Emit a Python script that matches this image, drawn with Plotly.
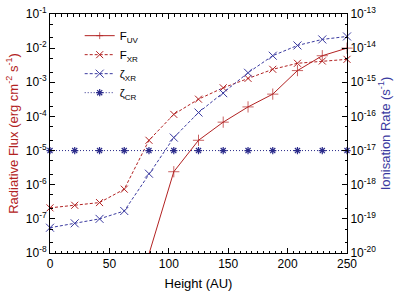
import plotly.graph_objects as go

height_au = [0, 20.8, 41.7, 62.5, 83.3, 104.2, 125.0, 145.8, 166.7, 187.5, 208.3, 229.2, 250.0]

f_uv = [None, None, None, 6e-10, 9.3e-9, 2.4e-6, 2.0e-5, 6.8e-5, 1.9e-4, 4.5e-4, 2.2e-3, 6.0e-3, 1.0e-2]
f_xr = [2.1e-7, 2.5e-7, 3.0e-7, 7.4e-7, 2.0e-5, 1.15e-4, 3.2e-4, 6.9e-4, 1.3e-3, 2.4e-3, 3.6e-3, 4.2e-3, 4.7e-3]
zeta_xr = [5.5e-20, 7.4e-20, 1.0e-19, 1.7e-19, 2.1e-18, 2.4e-17, 1.3e-16, 4.8e-16, 1.9e-15, 6.0e-15, 1.2e-14, 1.8e-14, 2.2e-14]
zeta_cr = [1e-17] * 13

flux_tickvals = [1e-8, 1e-7, 1e-6, 1e-5, 1e-4, 1e-3, 1e-2, 1e-1]
flux_ticktext = ["10<sup>-8</sup>", "10<sup>-7</sup>", "10<sup>-6</sup>", "10<sup>-5</sup>",
                 "10<sup>-4</sup>", "10<sup>-3</sup>", "10<sup>-2</sup>", "10<sup>-1</sup>"]
rate_tickvals = [1e-20, 1e-19, 1e-18, 1e-17, 1e-16, 1e-15, 1e-14, 1e-13]
rate_ticktext = ["10<sup>-20</sup>", "10<sup>-19</sup>", "10<sup>-18</sup>", "10<sup>-17</sup>",
                 "10<sup>-16</sup>", "10<sup>-15</sup>", "10<sup>-14</sup>", "10<sup>-13</sup>"]

RED = "#b22222"
BLUE = "#3a3aa0"
FONT = "Liberation Sans, Arial, sans-serif"

uv_sizes = [0 if (v is None or v < 1e-8) else 8 for v in f_uv]

fig = go.Figure()
fig.add_trace(go.Scatter(
    x=height_au, y=f_uv, name="F<sub>UV</sub>", mode="lines+markers",
    line=dict(color=RED, width=1, dash="solid"),
    marker=dict(symbol="cross-thin-open", size=uv_sizes, line=dict(color=RED, width=1)),
    cliponaxis=False, connectgaps=False))
fig.add_trace(go.Scatter(
    x=height_au, y=f_xr, name="F<sub>XR</sub>", mode="lines+markers",
    line=dict(color=RED, width=1, dash="3px,2px"),
    marker=dict(symbol="x-thin-open", size=7, line=dict(color=RED, width=1)),
    cliponaxis=False))
fig.add_trace(go.Scatter(
    x=height_au, y=zeta_xr, name="ζ<sub>XR</sub>", mode="lines+markers", yaxis="y2",
    line=dict(color=BLUE, width=1, dash="3px,2px"),
    marker=dict(symbol="x-thin-open", size=8, line=dict(color=BLUE, width=1)),
    cliponaxis=False))
fig.add_trace(go.Scatter(
    x=height_au, y=zeta_cr, name="ζ<sub>CR</sub>", mode="lines+markers", yaxis="y2",
    line=dict(color="#2a2a8a", width=1, dash="1px,2px"),
    marker=dict(symbol="asterisk-open", size=6, line=dict(color="#2a2a8a", width=1.2)),
    cliponaxis=False))

axis_common = dict(showline=True, linecolor="black", linewidth=1, ticks="inside",
                   ticklen=5, tickcolor="black", showgrid=False, zeroline=False,
                   automargin=False, ticklabeloverflow="allow",
                   tickfont=dict(family=FONT, size=12, color="black"))

fig.update_layout(
    width=415, height=291,
    margin=dict(l=50, r=68, t=14, b=38),
    paper_bgcolor="white", plot_bgcolor="white",
    font=dict(family=FONT, size=12, color="black"),
    showlegend=True,
    legend=dict(x=0.1, y=0.97, xanchor="left", yanchor="top", bgcolor="rgba(0,0,0,0)",
                font=dict(family=FONT, size=11.5, color="black"), tracegroupgap=0,
                itemwidth=30),
    xaxis=dict(range=[0, 250], tickvals=[0, 50, 100, 150, 200, 250], mirror="ticks",
               minor=dict(dtick=5, ticks="inside", ticklen=2.5, tickcolor="black", showgrid=False),
               title=dict(text="Height (AU)", font=dict(family=FONT, size=13, color="black"), standoff=8),
               **axis_common),
    yaxis=dict(type="log", range=[-8, -1], tickvals=flux_tickvals, ticktext=flux_ticktext,
               mirror=True,
               minor=dict(ticks="inside", ticklen=2.5, tickcolor="black", showgrid=False),
               title=dict(text="Radiative Flux (erg cm<sup>-2</sup> s<sup>-1</sup>)",
                          font=dict(family=FONT, size=13, color=RED), standoff=4),
               **axis_common),
    yaxis2=dict(type="log", range=[-20, -13], tickvals=rate_tickvals, ticktext=rate_ticktext,
                overlaying="y", side="right",
                minor=dict(ticks="inside", ticklen=2.5, tickcolor="black", showgrid=False),
                title=dict(text="Ionisation Rate (s<sup>-1</sup>)",
                           font=dict(family=FONT, size=13, color=BLUE), standoff=4),
                **axis_common),
)

fig.write_html("out.html", config={"displayModeBar": False},
               post_script="document.body.style.margin='0';")
